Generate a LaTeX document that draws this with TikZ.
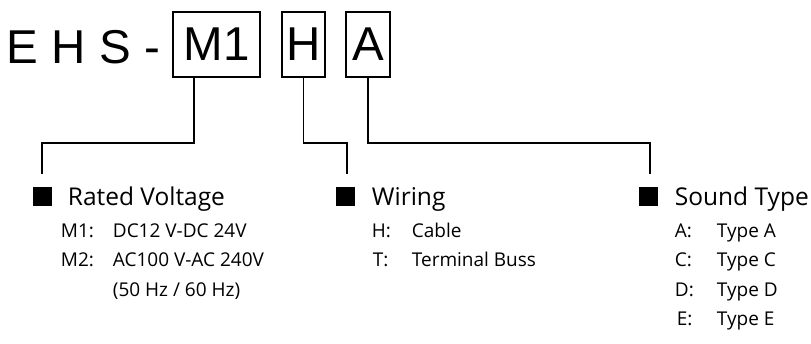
\documentclass[tikz,border=0pt]{standalone}
\usepackage{fontspec}
\newfontfamily\titlefont{Liberation Sans}
\newfontfamily\labelfont{Open Sans}
\usepackage{tikz}

\begin{document}
\begin{tikzpicture}[x = 1pt, y = -1pt, line width = 1.8pt,
                    box/.style = {draw, line width = 1.4pt, minimum height = 65pt, inner sep = 0pt,
                                  font = \titlefont\fontsize{47.5}{50}\selectfont},
                    bullet/.style = {fill = black, minimum size = 19pt, inner sep = 0pt},
                    head/.style = {anchor = base west, inner sep = 0pt, font = \labelfont\fontsize{24.5}{28}\selectfont},
                    item/.style = {anchor = base west, inner sep = 0pt, font = \labelfont\fontsize{19}{22}\selectfont}]
      \useasboundingbox (0, 0) rectangle (811, 343);
      \node [anchor = base west, inner sep = 0pt, font = \titlefont\fontsize{47.5}{50}\selectfont] (t) at (6, 63) {E H S -};
      \node [box, minimum width = 87pt] (b1) at (216.5, 44.5) {M1};
      \node [box, minimum width = 43pt] (b2) at (303.5, 44.5) {H};
      \node [box, minimum width = 44pt] (b3) at (368, 44.5) {A};
      \node [bullet] (s1) at (42, 196.5) {};
      \node [bullet] (s2) at (345, 196.5) {};
      \node [bullet] (s3) at (648, 196.5) {};
      \node [head] (h1) at (67, 205) {Rated Voltage};
      \node [head] (h2) at (371, 205) {Wiring};
      \node [head] (h3) at (674, 205) {Sound Type};
      \node [item] (k1) at (60, 237) {M1:};
      \node [item] (v1) at (112, 237) {DC12 V-DC 24V};
      \node [item] (k2) at (60, 266.5) {M2:};
      \node [item] (v2) at (112, 266.5) {AC100 V-AC 240V};
      \node [item] (v3) at (112, 296) {(50 Hz / 60 Hz)};
      \node [item] (k4) at (371, 237) {H:};
      \node [item] (v4) at (411, 237) {Cable};
      \node [item] (k5) at (372, 266.5) {T:};
      \node [item] (v5) at (411, 266.5) {Terminal Buss};
      \node [item] (k6) at (674, 237) {A:};
      \node [item] (v6) at (716, 237) {Type A};
      \node [item] (k7) at (674, 266.5) {C:};
      \node [item] (v7) at (716, 266.5) {Type C};
      \node [item] (k8) at (674, 296) {D:};
      \node [item] (v8) at (716, 296) {Type D};
      \node [item] (k9) at (676, 325.5) {E:};
      \node [item] (v9) at (716, 325.5) {Type E};
      \draw ([xshift = 22pt]b1.south west) -- ++(0, 65) -| ([yshift = 12pt]s1.north);
      \draw (b2.south) -- ++(0, 65) -| ([xshift = 2pt, yshift = 12pt]s2.north);
      \draw (b3.south) -- ++(0, 65) -| ([xshift = 2pt, yshift = 12pt]s3.north);
    \end{tikzpicture}
\end{document}
